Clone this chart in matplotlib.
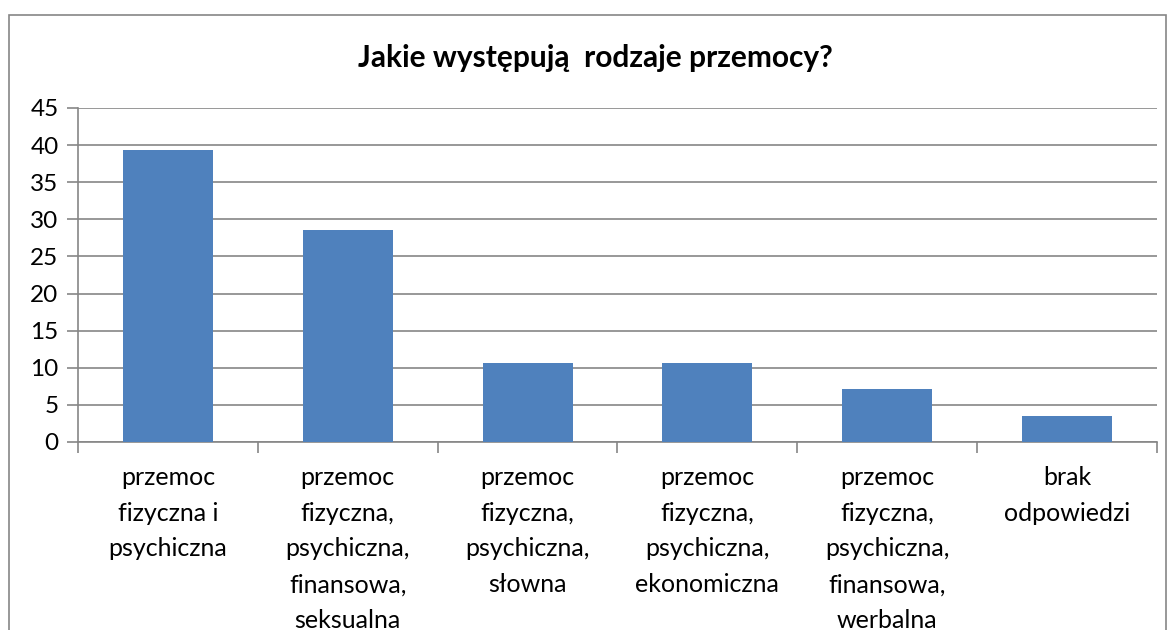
import matplotlib.pyplot as plt
from matplotlib.patches import Rectangle

plt.rcParams['font.family'] = ['Lato', 'DejaVu Sans']

categories = ['przemoc\nfizyczna i\npsychiczna',
              'przemoc\nfizyczna,\npsychiczna,\nfinansowa,\nseksualna',
              'przemoc\nfizyczna,\npsychiczna,\nsłowna',
              'przemoc\nfizyczna,\npsychiczna,\nekonomiczna',
              'przemoc\nfizyczna,\npsychiczna,\nfinansowa,\nwerbalna',
              'brak\nodpowiedzi']
values = [39.29, 28.57, 10.71, 10.71, 7.14, 3.57]
yticks = [0, 5, 10, 15, 20, 25, 30, 35, 40, 45]

grid_col = '#868686'
bar_col = '#4F81BD'

fig = plt.figure(figsize=(11.69, 6.3), dpi=100)
ax = fig.add_axes([78 / 1169, 1 - 442 / 630, (1157 - 78) / 1169, (442 - 108) / 630])

# outer chart frame
fig.patches.append(Rectangle((8.5 / 1169, -0.05), (1166 - 8.5) / 1169, 1.05 - 15.5 / 630,
                             transform=fig.transFigure, fill=False,
                             edgecolor=grid_col, linewidth=1.2))

x = range(len(values))
ax.bar(x, values, width=0.5, color=bar_col, zorder=3)

ax.set_xlim(-0.5, len(values) - 0.5)
ax.set_ylim(0, 45)
ax.set_yticks(yticks)
ax.set_yticklabels([str(v) for v in yticks], fontsize=17.5)
ax.yaxis.grid(True, color=grid_col, linewidth=1.2, zorder=0)
ax.tick_params(axis='y', length=8, width=1.2, color=grid_col, pad=6)

ax.set_xticks([i - 0.5 for i in range(len(values) + 1)])
ax.set_xticklabels([])
ax.set_xticks(list(x), minor=True)
ax.set_xticklabels(categories, minor=True, fontsize=18, linespacing=1.68, va='top')
ax.tick_params(axis='x', which='major', length=8, width=1.2, color=grid_col)
ax.tick_params(axis='x', which='minor', length=0, pad=17)

for s in ['top', 'right']:
    ax.spines[s].set_visible(False)
for s in ['left', 'bottom']:
    ax.spines[s].set_color(grid_col)
    ax.spines[s].set_linewidth(1.2)

fig.text(595 / 1169, 1 - 58 / 630, 'Jakie występują  rodzaje przemocy?',
         ha='center', va='center', fontsize=21.5, fontweight='bold')

fig.savefig('out.png', dpi=100)
